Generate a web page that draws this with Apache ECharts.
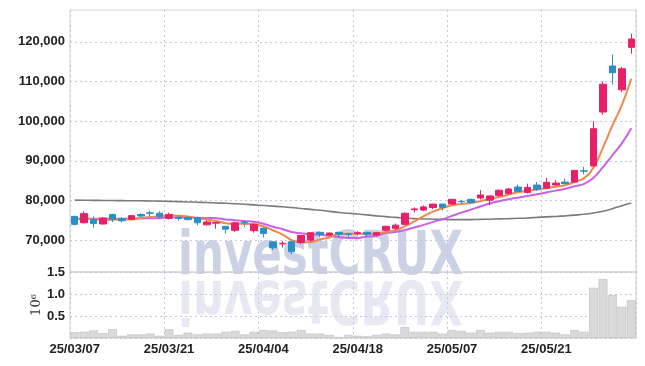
<!DOCTYPE html>
<html>
<head>
<meta charset="utf-8">
<script src="https://cdn.jsdelivr.net/npm/echarts@6/dist/echarts.min.js"></script>
<style>
html,body{margin:0;padding:0;background:#fff;}
#chart{width:645px;height:366px;}
</style>
</head>
<body>
<div id="chart"></div>
<script>
const dates = ['25/03/07','25/03/10','25/03/11','25/03/12','25/03/13','25/03/14','25/03/17','25/03/18','25/03/19','25/03/20',
'25/03/21','25/03/24','25/03/25','25/03/26','25/03/27','25/03/28','25/03/31','25/04/01','25/04/02','25/04/03',
'25/04/04','25/04/07','25/04/08','25/04/09','25/04/10','25/04/11','25/04/14','25/04/15','25/04/16','25/04/17',
'25/04/18','25/04/21','25/04/22','25/04/23','25/04/24','25/04/25','25/04/28','25/04/29','25/04/30','25/05/02',
'25/05/07','25/05/08','25/05/09','25/05/12','25/05/13','25/05/14','25/05/15','25/05/16','25/05/19','25/05/20',
'25/05/21','25/05/22','25/05/23','25/05/26','25/05/27','25/05/28','25/05/29','25/05/30','25/06/02','25/06/04'];

const openPrices = [76000,74400,75200,74100,76500,75400,75300,76500,76900,76800,
75500,75800,75700,75700,73900,74300,73500,72500,74500,72400,
73000,69600,69100,69600,69400,70000,72000,71300,72000,71600,
71700,72000,71300,72500,73000,74000,77700,77600,78250,79100,
79100,79800,80300,80650,80100,81250,81750,83400,82050,83900,
83100,83900,84650,84650,87500,88700,102300,113900,107900,118600];
const closePrices = [74000,76700,74200,75600,75300,74900,76200,76100,76800,75900,
76500,75500,75200,74400,74600,74500,72800,74400,74400,74000,
71700,68100,69250,67100,71200,71900,71500,71800,71500,71500,
71900,71500,71900,73500,73800,76800,77900,78400,79100,78250,
80300,79700,79500,81400,81150,82600,82900,82300,83300,82800,
84600,84400,84250,87600,87400,98100,109300,112200,113200,120700];
const lowPrices = [73800,74200,73200,73950,74600,74450,75200,75800,76100,75600,
75200,75000,75000,73800,73700,72900,71700,72100,73350,71900,
70700,67500,68150,66500,69000,69600,70800,71100,70800,70900,
71200,70800,70900,72200,72500,73800,77000,77300,77800,77500,
79000,79200,79200,80250,78800,80900,81500,82150,81750,82400,
82900,83750,84100,84400,86600,88500,101600,109200,107300,117000];
const highPrices = [76200,77300,76000,75800,76700,75800,76400,76800,77400,77300,
76950,76300,76100,75900,75000,74600,73600,74700,74850,74300,
73300,69700,69800,69800,71300,72000,72200,72000,72100,71800,
72300,72100,72100,73700,74200,77000,78300,78800,79200,79200,
80400,80200,80500,82600,81300,82800,83200,84000,84250,84650,
85750,85100,85500,87700,88500,100000,110000,116800,113650,122000];

const ma5 = [75400,75500,75300,75200,75160,75340,75240,75620,75860,75980,
76300,76160,75980,75500,75240,74840,74300,74140,74140,74020,
73460,72520,71490,70030,69470,69510,70190,70700,71580,71640,
71640,71640,71660,72060,72520,73500,74780,76080,77200,78090,
78790,79150,79370,79830,80410,80870,81510,82070,82450,82780,
83180,83480,83870,84730,85650,88350,93330,98920,104040,110700];
const ma10 = [75300,75400,75400,75400,75450,75400,75450,75500,75550,75570,
75820,75700,75800,75680,75610,75570,75230,75060,74820,74630,
74150,73410,72815,72085,71745,71485,71355,71095,70805,70555,
70575,70915,71180,71820,72080,72570,73210,73870,74630,75305,
76145,76965,77725,78515,79250,79830,80330,80720,81140,81595,
82025,82495,82970,83590,84215,85765,88405,91410,94410,98200];
const maLong = [80100,80080,80050,80030,80000,79980,79950,79930,79900,79850,
79800,79730,79650,79580,79500,79400,79300,79180,79050,78900,
78750,78600,78450,78230,78000,77780,77550,77280,77000,76800,
76600,76380,76150,75950,75750,75600,75450,75370,75300,75250,
75200,75200,75200,75250,75300,75380,75450,75530,75620,75750,
75880,76000,76150,76330,76550,76870,77300,77950,78700,79400];

const volumeMillions = [0.13,0.14,0.17,0.11,0.20,0.05,0.08,0.08,0.10,0.05,
0.20,0.07,0.12,0.08,0.10,0.10,0.14,0.16,0.08,0.14,
0.18,0.17,0.13,0.14,0.18,0.10,0.10,0.07,0.02,0.07,
0.05,0.04,0.07,0.10,0.08,0.25,0.14,0.14,0.14,0.10,
0.18,0.16,0.12,0.18,0.12,0.14,0.14,0.11,0.12,0.14,
0.14,0.12,0.08,0.18,0.14,1.14,1.34,0.98,0.71,0.86];

const priceTicks = [70000,80000,90000,100000,110000,120000];
const watermarkText = 'investCRUX';

const candleData = openPrices.map((o, i) => [o, closePrices[i], lowPrices[i], highPrices[i]]);
const volumeData = volumeMillions.map(v => v * 1e6);

const UP = '#e8206a', DOWN = '#2a8fc8';
const labelFont = {fontFamily: '"Liberation Sans",Arial,sans-serif', fontSize: 13, fontWeight: 'bold', color: '#222'};
const gridLine = {show: true, lineStyle: {color: '#c4c8dc', type: [2, 3], width: 1}};

// watermark sizing
const wmFont = 'bold 60px "DejaVu Sans"';
const mctx = document.createElement('canvas').getContext('2d');
mctx.font = wmFont;
const wmScaleX = 285 / mctx.measureText(watermarkText).width;

const chart = echarts.init(document.getElementById('chart'), null, {renderer: 'canvas'});
chart.setOption({
  animation: false,
  backgroundColor: '#fff',
  graphic: [
    {type: 'text', x: 178, y: 288, scaleX: wmScaleX, z: -10, silent: true,
     style: {text: watermarkText, font: wmFont, fill: '#cbd2e6', verticalAlign: 'bottom', align: 'left'}},
    {type: 'text', x: 178, y: 267, scaleX: wmScaleX, scaleY: -1, z: -10, silent: true,
     style: {text: watermarkText, font: wmFont, fill: '#e6e9f2', verticalAlign: 'bottom', align: 'left'}}
  ],
  grid: [
    {left: 70, right: 9, top: 10, height: 262, show: true, borderColor: '#d0d0d0', borderWidth: 1, backgroundColor: 'transparent'},
    {left: 70, right: 9, top: 272, height: 66, show: true, borderColor: '#d0d0d0', borderWidth: 1, backgroundColor: 'transparent'}
  ],
  xAxis: [
    {type: 'category', gridIndex: 0, data: dates, boundaryGap: true,
     axisLine: {show: false}, axisTick: {show: false}, axisLabel: {show: false},
     splitLine: Object.assign({interval: 9}, gridLine)},
    {type: 'category', gridIndex: 1, data: dates, boundaryGap: true,
     axisLine: {show: false}, axisTick: {show: false},
     axisLabel: Object.assign({interval: 9, margin: 5}, labelFont),
     splitLine: Object.assign({interval: 9}, gridLine)}
  ],
  yAxis: [
    {type: 'value', gridIndex: 0, min: 62000, max: 128000, scale: true,
     axisLine: {show: false}, axisTick: {show: false, customValues: priceTicks},
     axisLabel: Object.assign({customValues: priceTicks, margin: 5,
       formatter: v => v.toLocaleString('en-US')}, labelFont),
     splitLine: gridLine},
    {type: 'value', gridIndex: 1, min: 0, max: 1.5e6, interval: 0.5e6,
     axisLine: {show: false}, axisTick: {show: false},
     axisLabel: Object.assign({showMinLabel: false, margin: 5,
       formatter: v => (v / 1e6).toFixed(1)}, labelFont),
     splitLine: gridLine,
     name: '10⁶', nameLocation: 'middle', nameRotate: 90, nameGap: 27, nameMoveOverlap: false,
     nameTextStyle: {fontFamily: '"DejaVu Serif",serif', fontSize: 13, color: '#333'}}
  ],
  series: [
    {type: 'bar', xAxisIndex: 1, yAxisIndex: 1, data: volumeData, barCategoryGap: '6%',
     itemStyle: {color: '#d9d9d9', borderColor: '#bdbdbd', borderWidth: 0.6}, z: 2},
    {type: 'line', data: maLong, xAxisIndex: 0, yAxisIndex: 0, smooth: true, symbol: 'none',
     lineStyle: {color: '#7b7b7b', width: 1.6}, z: 3},
    {type: 'line', data: ma10, xAxisIndex: 0, yAxisIndex: 0, smooth: true, symbol: 'none',
     lineStyle: {color: '#c860e8', width: 2}, z: 3},
    {type: 'line', data: ma5, xAxisIndex: 0, yAxisIndex: 0, smooth: true, symbol: 'none',
     lineStyle: {color: '#ef8a4c', width: 2}, z: 3},
    {type: 'candlestick', data: candleData, xAxisIndex: 0, yAxisIndex: 0, barWidth: 7,
     itemStyle: {color: UP, color0: DOWN, borderColor: UP, borderColor0: DOWN, borderWidth: 1}, z: 4}
  ]
});
</script>
</body>
</html>
